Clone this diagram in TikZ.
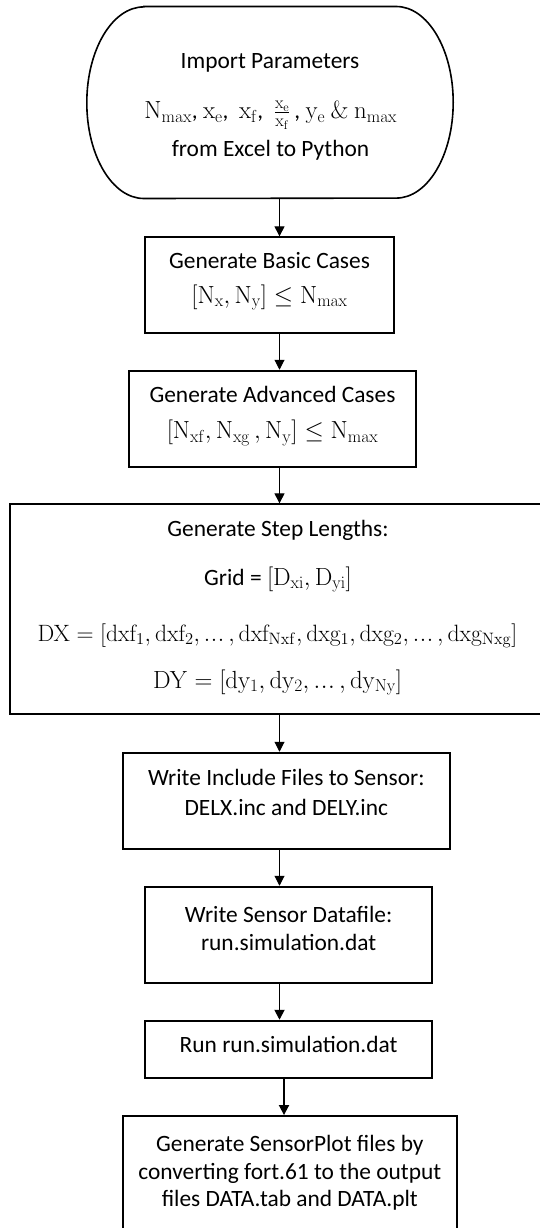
\RequirePackage{fix-cm}
\documentclass[tikz,border=0pt]{standalone}
\usepackage[no-math]{fontspec}
\setmainfont{Carlito}
\usetikzlibrary{arrows.meta}
\newcommand{\mth}[1]{{\fontsize{24.8pt}{28pt}\selectfont$#1$}}
\newcommand{\mthdx}[1]{{\fontsize{23.6pt}{28pt}\selectfont$#1$}}
\newcommand{\eld}{\mathord{.\kern0.6pt.\kern0.6pt.}\,}
\tikzset{
  box/.style={draw, line width=1.9pt, inner sep=0pt},
  term/.style={draw, line width=1.6pt},
  txt/.style={anchor=base, inner sep=0pt, font=\fontsize{23.4pt}{28pt}\selectfont},
  conn/.style={line width=1pt, -{Triangle[length=10pt,width=10pt]}},
  connthick/.style={line width=1.8pt, -{Triangle[length=10pt,width=10pt]}},
}
\begin{document}
\begin{tikzpicture}[x=1pt,y=-1pt]
\useasboundingbox (0,0) rectangle (539,1228);
\coordinate (ax) at (279.5,0);
\coordinate (bx) at (284,0);
% terminator
\node[minimum width=366pt, minimum height=191.6pt, inner sep=0pt] (imp) at (270,102.5) {};
\draw[term] ([xshift=57pt]imp.north west) -- ([xshift=-57pt]imp.north east)
  arc[start angle=90,end angle=-90,x radius=57pt,y radius=95.8pt]
  -- ([xshift=57pt]imp.south west)
  arc[start angle=270,end angle=90,x radius=57pt,y radius=95.8pt] -- cycle;
\node[txt] (t1a) at (270,68.3) {Import Parameters};
\node[txt] (t1b) at (270.8,118.3) {\mth{\mathrm{N_{max}}}, \mth{\mathrm{x_e}},\ \ \mth{\mathrm{x_f}},\ \ \mth{\frac{\mathrm{x_e}}{\mathrm{x_f}}}\,, \mth{\mathrm{y_e}\ \&\ \mathrm{n_{max}}}};
\node[txt] (t1c) at (270.5,156.7) {from Excel to Python};
% basic cases
\node[box, minimum width=249pt, minimum height=96pt] (b2) at (269.5,285.3) {};
\node[txt] (t2a) at (269.5,268.3) {Generate Basic Cases};
\node[txt] (t2b) at (269.5,303) {\mth{\bigl[\mathrm{N_x},\mathrm{N_y}\bigr]\le\mathrm{N_{max}}}};
% advanced cases
\node[box, minimum width=287pt, minimum height=96pt] (b3) at (272.5,418.7) {};
\node[txt] (t3a) at (272.5,402.3) {Generate Advanced Cases};
\node[txt] (t3b) at (272.5,438.3) {\mth{\bigl[\mathrm{N_{xf}},\mathrm{N_{xg}}\,,\mathrm{N_y}\bigr]\le\mathrm{N_{max}}}};
% step lengths
\node[box, minimum width=536pt, minimum height=210pt] (b4) at (278,609.3) {};
\node[txt] (t4a) at (278,536.7) {Generate Step Lengths:};
\node[txt] (t4b) at (278,585) {Grid = \mth{\bigl[\mathrm{D_{xi}},\mathrm{D_{yi}}\bigr]}};
\node[txt] (t4c) at (277.5,641) {\mthdx{\mathrm{DX}=\bigl[\mathrm{dxf_1},\mathrm{dxf_2},\eld,\mathrm{dxf_{Nxf}},\mathrm{dxg_1},\mathrm{dxg_2},\eld,\mathrm{dxg_{Nxg}}\bigr]}};
\node[txt] (t4d) at (277.6,688) {\mth{\mathrm{DY}=[\mathrm{dy_1},\mathrm{dy_2},\eld,\mathrm{dy_{Ny}}]}};
% include files
\node[box, minimum width=327.3pt, minimum height=96.6pt] (b5) at (286.35,801) {};
\node[txt] (t5a) at (286.35,785) {Write Include Files to Sensor:};
\node[txt] (t5b) at (286.35,815) {DELX.inc and DELY.inc};
% datafile
\node[box, minimum width=287.3pt, minimum height=96.6pt] (b6) at (288.65,935) {};
\node[txt] (t6a) at (288.65,922) {Write Sensor Datafile:};
\node[txt] (t6b) at (288.65,950) {run.simulation.dat};
% run
\node[box, minimum width=287.3pt, minimum height=57.6pt] (b7) at (288.65,1049.5) {};
\node[txt] (t7a) at (288.65,1052) {Run run.simulation.dat};
% plot files
\node[box, minimum width=334.3pt, minimum height=116pt] (b8) at (289.85,1174) {};
\node[txt] (t8a) at (289.85,1151) {Generate SensorPlot files by};
\node[txt] (t8b) at (289.85,1179) {converting fort.61 to the output};
\node[txt] (t8c) at (289.85,1206) {files DATA.tab and DATA.plt};
% connectors
\draw[conn] (ax |- imp.south) -- (ax |- b2.north);
\draw[conn] (ax |- b2.south) -- (ax |- b3.north);
\draw[conn] (ax |- b3.south) -- (ax |- b4.north);
\draw[conn] (ax |- b4.south) -- (ax |- b5.north);
\draw[conn] (ax |- b5.south) -- (ax |- b6.north);
\draw[connthick] (ax |- b6.south) -- (ax |- b7.north);
\draw[connthick] (bx |- b7.south) -- (bx |- b8.north);
\end{tikzpicture}
\end{document}
